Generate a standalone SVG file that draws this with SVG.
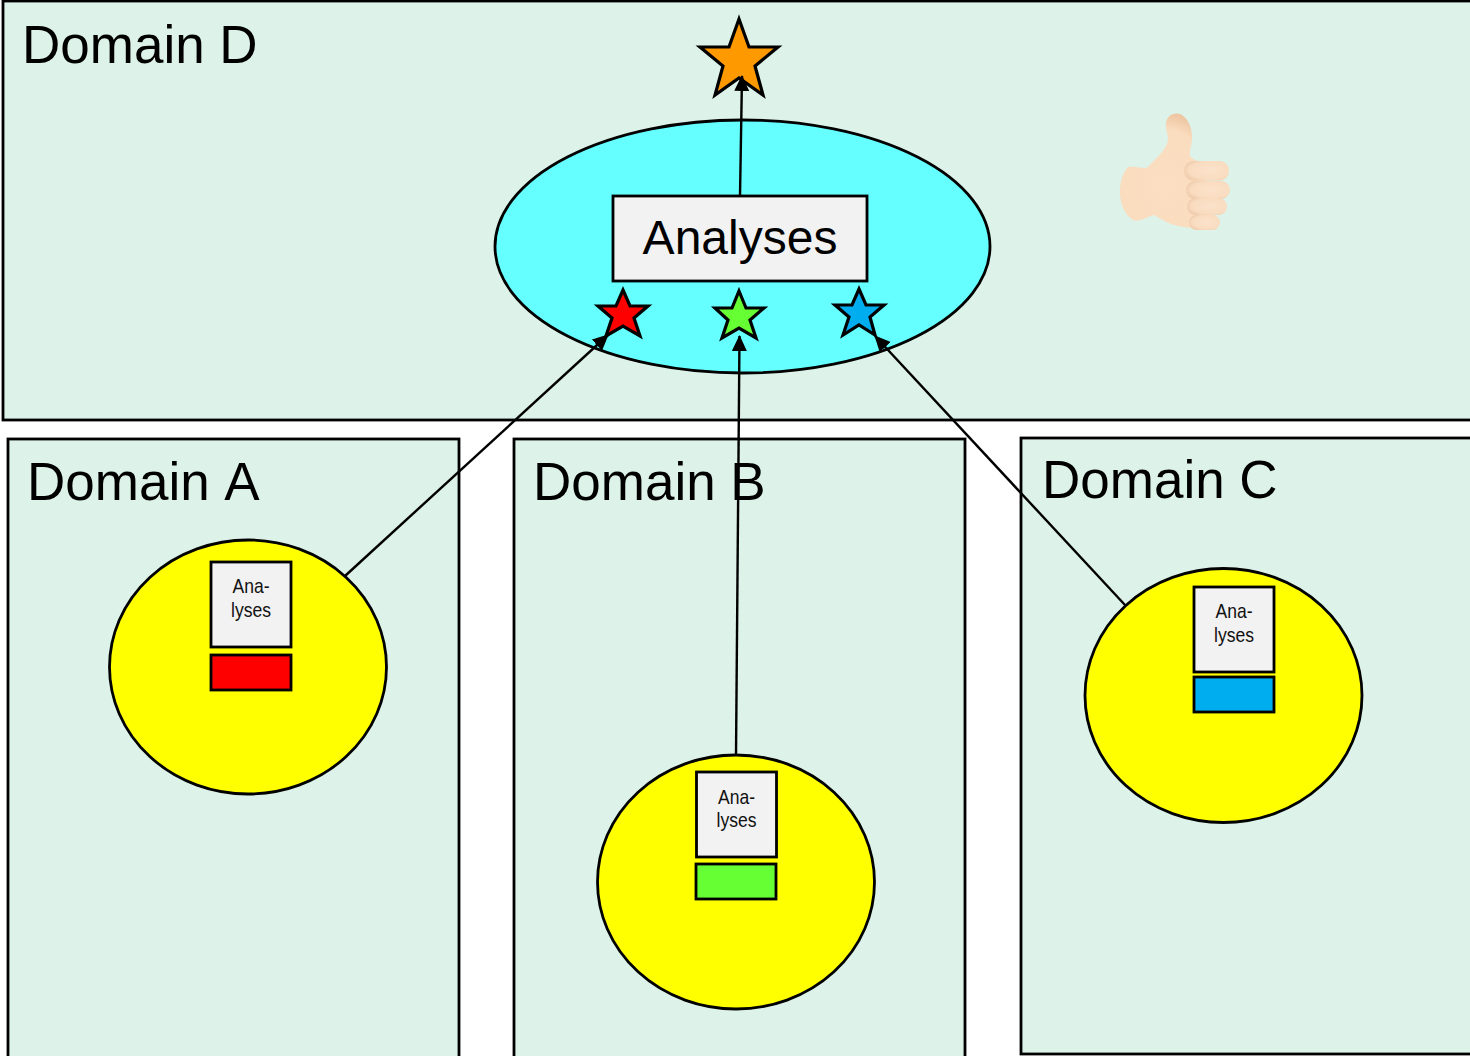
<svg xmlns="http://www.w3.org/2000/svg" width="1470" height="1056" viewBox="0 0 1470 1056">
<style>
.dom{fill:#ddf2e9;stroke:#000;stroke-width:2.800}
.ell{stroke:#000;stroke-width:2.800}
.box{fill:#f2f2f2;stroke:#000;stroke-width:2.800}
.star{stroke:#000;stroke-width:3.200;stroke-linejoin:miter}
.con{stroke:#000;stroke-width:2.400;fill:none;marker-end:url(#a)}
text{font-family:"Liberation Sans",Arial,sans-serif;fill:#000}
.d{font-size:53px;font-kerning:none}
.s{font-size:21px;text-anchor:middle;fill:#111}
.fill-box{stroke:#000;stroke-width:2.800}
</style>
<defs>
<marker id="a" markerUnits="userSpaceOnUse" markerWidth="18" markerHeight="18" refX="15" refY="8.500" orient="auto"><path d="M0,1 L16,8.500 L0,16Z" fill="#000"/></marker>
<radialGradient id="skin" cx=".48" cy=".62" r=".62"><stop offset="0" stop-color="#fbdfc2"/><stop offset=".78" stop-color="#fadcbe"/><stop offset="1" stop-color="#eec6a3"/></radialGradient>
<radialGradient id="fing" cx=".58" cy=".48" r=".66"><stop offset="0" stop-color="#fbe2ca"/><stop offset=".7" stop-color="#f9dcc0"/><stop offset="1" stop-color="#ecc7a6"/></radialGradient>
</defs>
<g id="domain-d"><rect class="dom" x="3" y="1" width="1480" height="419"/><text class="d" x="22" y="63">Domain D</text></g>
<g id="domain-a"><rect class="dom" x="8" y="439" width="451" height="630"/><text class="d" x="27" y="500">Domain A</text></g>
<g id="domain-b"><rect class="dom" x="514" y="439" width="451" height="630"/><text class="d" x="533" y="500">Domain B</text></g>
<g id="domain-c"><rect class="dom" x="1021" y="438" width="460" height="616"/><text class="d" x="1042" y="498">Domain C</text></g>
<g id="hub"><ellipse class="ell" cx="742.500" cy="246.500" rx="247.500" ry="126.500" fill="#66ffff"/>
<rect class="box" x="613" y="196" width="254" height="85"/><text x="740" y="254" font-size="48" text-anchor="middle" fill="#111">Analyses</text></g>
<g id="node-a"><ellipse class="ell" cx="248" cy="667" rx="138.500" ry="127" fill="#ffff00"/>
<rect class="box" x="211" y="562" width="80" height="85"/><text class="s" x="251" y="593" textLength="37" lengthAdjust="spacingAndGlyphs">Ana-</text><text class="s" x="251" y="617" textLength="40" lengthAdjust="spacingAndGlyphs">lyses</text>
<rect class="fill-box" x="211" y="655" width="80" height="35" fill="#ff0000"/></g>
<g id="node-b"><ellipse class="ell" cx="736" cy="882" rx="138.500" ry="127" fill="#ffff00"/>
<rect class="box" x="696.500" y="772" width="80" height="85"/><text class="s" x="736.500" y="804" textLength="37" lengthAdjust="spacingAndGlyphs">Ana-</text><text class="s" x="736.500" y="827" textLength="40" lengthAdjust="spacingAndGlyphs">lyses</text>
<rect class="fill-box" x="696" y="864" width="80" height="35" fill="#66ff33"/></g>
<g id="node-c"><ellipse class="ell" cx="1223.500" cy="695.500" rx="138.500" ry="127" fill="#ffff00"/>
<rect class="box" x="1194" y="587" width="80" height="85"/><text class="s" x="1234" y="618" textLength="37" lengthAdjust="spacingAndGlyphs">Ana-</text><text class="s" x="1234" y="642" textLength="40" lengthAdjust="spacingAndGlyphs">lyses</text>
<rect class="fill-box" x="1194" y="677" width="80" height="35" fill="#00aeef"/></g>
<g id="star-orange"><polygon class="star" fill="#ff9900" points="739,19 749,47 778,47 755,66 763,95 739,78 715,95 723,66 700,47 729,47"/></g>
<g id="star-red"><polygon class="star" fill="#ff0000" points="623,290 630,306 648,306 634,318 640,336 623,326 606,336 612,318 598,306 616,306"/></g>
<g id="star-green"><polygon class="star" fill="#66ff33" points="739,291 746,308 764,308 750,320 756,338 739,328 722,338 728,320 715,308 732,308"/></g>
<g id="star-blue"><polygon class="star" fill="#00aeef" points="859,289 866,305 884,305 870,317 875,335 859,325 843,335 849,317 835,305 852,305"/></g>
<g id="connectors">
<path class="con" d="M345,576 L608,335"/>
<path class="con" d="M736,755 L739.500,336"/>
<path class="con" d="M1125,605 L875,336"/>
<path class="con" d="M740,196 L742,76"/>
</g>
<g id="thumb">
<path fill="url(#skin)" d="M1128,167 C1134,166 1141,168 1147,168 C1154,160 1163,153 1167,144 C1170,137 1165,130 1166,123 C1167,115 1175,111 1182,115 C1189,120 1192,128 1192,138 C1192,146 1189,150 1190,156 C1193,160 1198,161 1204,162 L1212,228 C1196,229 1183,228 1171,224 C1163,221 1157,216 1153,215 C1146,218 1139,222 1133,220 C1124,214 1120,203 1120,192 C1120,181 1123,172 1128,167Z"/>
<rect x="1184" y="161" width="45" height="19.500" rx="9.500" fill="url(#fing)"/>
<rect x="1186" y="181" width="44" height="18" rx="9" fill="url(#fing)"/>
<rect x="1187" y="198" width="40" height="17" rx="8.500" fill="url(#fing)"/>
<rect x="1189" y="215" width="31" height="15" rx="7.500" fill="url(#fing)"/>
</g>
</svg>
